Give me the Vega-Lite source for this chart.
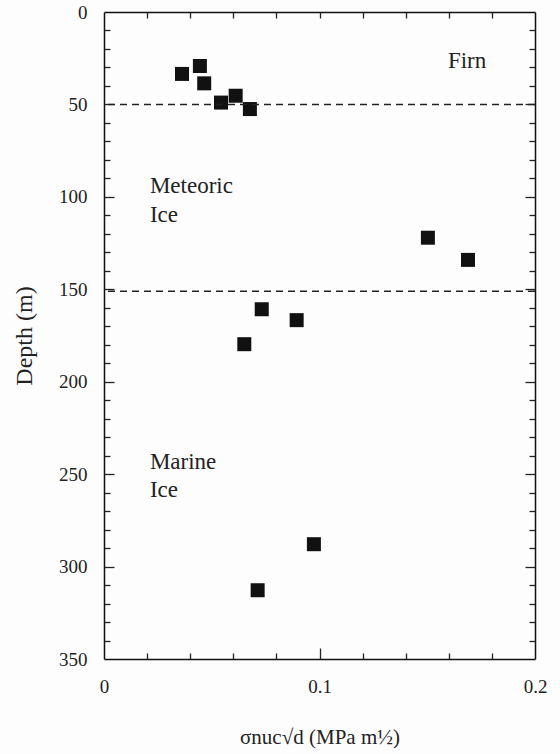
{
  "$schema": "https://vega.github.io/schema/vega-lite/v6.json",
  "width": 431,
  "height": 647,
  "autosize": "none",
  "padding": {"left": 104, "top": 12, "right": 25, "bottom": 95},
  "background": "#fdfdfd",
  "datasets": {
    "pts": [
      {"x": 0.0362, "depth": 33.5},
      {"x": 0.0445, "depth": 29.2},
      {"x": 0.0465, "depth": 38.6},
      {"x": 0.0543, "depth": 49.0},
      {"x": 0.0611, "depth": 45.3},
      {"x": 0.0677, "depth": 52.5},
      {"x": 0.1503, "depth": 122.1},
      {"x": 0.1689, "depth": 134.1},
      {"x": 0.0732, "depth": 160.8},
      {"x": 0.0894, "depth": 166.7},
      {"x": 0.0651, "depth": 179.7},
      {"x": 0.0974, "depth": 287.9},
      {"x": 0.0713, "depth": 312.8}
    ]
  },
  "config": {
    "view": {"stroke": null},
    "font": "Liberation Serif",
    "axis": {
      "domainColor": "#111",
      "domainWidth": 1.5,
      "tickColor": "#222",
      "tickWidth": 1.3,
      "grid": false,
      "labelFont": "Liberation Serif",
      "labelColor": "#222",
      "labelFontSize": 19,
      "titleFont": "Liberation Serif",
      "titleColor": "#222",
      "titleFontWeight": "normal"
    }
  },
  "resolve": {"axis": {"x": "independent", "y": "independent"}},
  "layer": [
    {
      "data": {"name": "pts"},
      "mark": {"type": "square", "size": 196, "filled": true, "color": "#111", "opacity": 1},
      "encoding": {
        "x": {
          "field": "x", "type": "quantitative",
          "scale": {"domain": [0, 0.2], "nice": false, "zero": false},
          "axis": {
            "orient": "bottom",
            "title": "σnuc√d (MPa m½)",
            "titleFont": "Liberation Serif",
            "titleFontSize": 21,
            "titlePadding": 30,
            "values": [0, 0.1, 0.2],
            "format": "~g",
            "labelFont": "Liberation Serif",
            "labelFontSize": 19,
            "labelPadding": 18,
            "labelFlush": false,
            "labelOverlap": false,
            "ticks": false
          }
        },
        "y": {
          "field": "depth", "type": "quantitative",
          "scale": {"domain": [0, 350], "nice": false, "zero": false, "reverse": true},
          "axis": {
            "orient": "left",
            "title": "Depth (m)",
            "titleFont": "Liberation Serif",
            "titleFontSize": 24,
            "titlePadding": 22,
            "values": [0, 50, 100, 150, 200, 250, 300, 350],
            "labelFont": "Liberation Serif",
            "labelFontSize": 19,
            "labelPadding": 17,
            "labelFlush": false,
            "labelOverlap": false,
            "ticks": false
          }
        }
      }
    },
    {
      "data": {"values": [{"depth": 50}, {"depth": 151}]},
      "mark": {"type": "rule", "color": "#222", "strokeWidth": 1.5, "strokeDash": [7, 5]},
      "encoding": {
        "y": {
          "field": "depth", "type": "quantitative",
          "axis": {"orient": "right", "title": null, "labels": false, "ticks": false}
        }
      }
    },
    {
      "data": {"values": [
        {"label": "Firn", "x": 0.1596, "depth": 30.3},
        {"label": "Meteoric", "x": 0.0213, "depth": 97.9},
        {"label": "Ice", "x": 0.0213, "depth": 113.6},
        {"label": "Marine", "x": 0.0213, "depth": 247.2},
        {"label": "Ice", "x": 0.0213, "depth": 262.3}
      ]},
      "mark": {"type": "text", "align": "left", "baseline": "alphabetic", "fontSize": 23, "font": "Liberation Serif", "color": "#222"},
      "encoding": {
        "x": {
          "field": "x", "type": "quantitative",
          "axis": {"orient": "top", "title": null, "labels": false, "ticks": false}
        },
        "y": {"field": "depth", "type": "quantitative", "axis": null},
        "text": {"field": "label"}
      }
    },
    {
      "data": {"name": "pts"},
      "mark": {"type": "point", "opacity": 0},
      "encoding": {
        "x": {
          "field": "x", "type": "quantitative",
          "axis": {"orient": "bottom", "title": null, "labels": false, "domain": false, "offset": -6, "tickSize": 6,
                   "values": [0.02, 0.04, 0.06, 0.08, 0.12, 0.14, 0.16, 0.18]}
        },
        "y": {
          "field": "depth", "type": "quantitative",
          "axis": {"orient": "left", "title": null, "labels": false, "domain": false, "offset": -6, "tickSize": 6,
                   "values": [10, 20, 30, 40, 60, 70, 80, 90, 110, 120, 130, 140, 160, 170, 180, 190, 210, 220, 230, 240, 260, 270, 280, 290, 310, 320, 330, 340]}
        }
      }
    },
    {
      "data": {"name": "pts"},
      "mark": {"type": "point", "opacity": 0},
      "encoding": {
        "x": {
          "field": "x", "type": "quantitative",
          "axis": {"orient": "bottom", "title": null, "labels": false, "domain": false, "offset": -11, "tickSize": 11,
                   "values": [0.1]}
        },
        "y": {
          "field": "depth", "type": "quantitative",
          "axis": {"orient": "left", "title": null, "labels": false, "domain": false, "offset": -10, "tickSize": 10,
                   "values": [50, 100, 150, 200, 250, 300]}
        }
      }
    },
    {
      "data": {"name": "pts"},
      "mark": {"type": "point", "opacity": 0},
      "encoding": {
        "x": {
          "field": "x", "type": "quantitative",
          "axis": {"orient": "top", "title": null, "labels": false, "domain": false, "offset": -6, "tickSize": 6,
                   "values": [0.02, 0.04, 0.06, 0.08, 0.1, 0.12, 0.14, 0.16, 0.18]}
        },
        "y": {
          "field": "depth", "type": "quantitative",
          "axis": {"orient": "right", "title": null, "labels": false, "domain": false, "offset": -6, "tickSize": 6,
                   "values": [10, 20, 30, 40, 60, 70, 80, 90, 110, 120, 130, 140, 160, 170, 180, 190, 210, 220, 230, 240, 260, 270, 280, 290, 310, 320, 330, 340]}
        }
      }
    },
    {
      "data": {"name": "pts"},
      "mark": {"type": "point", "opacity": 0},
      "encoding": {
        "y": {
          "field": "depth", "type": "quantitative",
          "axis": {"orient": "right", "title": null, "labels": false, "domain": false, "offset": -10, "tickSize": 10,
                   "values": [50, 100, 150, 200, 250, 300]}
        }
      }
    }
  ]
}
